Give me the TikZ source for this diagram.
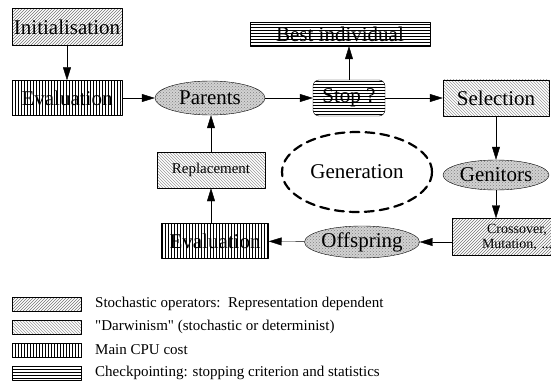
\documentclass[tikz,border=0pt]{standalone}
\usepackage{fontspec}
\setmainfont{Liberation Serif}
\usepackage{tikz}
\usetikzlibrary{arrows.meta}
\usetikzlibrary{patterns}
\usetikzlibrary{shapes.geometric}
\definecolor{hatchgray}{rgb}{0.45,0.45,0.45}
\definecolor{ltgray}{rgb}{0.6,0.6,0.6}
\tikzstyle{every node}=[font=\fontsize{21}{22}\selectfont,inner sep=0pt]
\tikzstyle{stoch}=[draw,pattern=north east lines,pattern color=hatchgray]
\tikzstyle{darwin}=[draw,pattern=north west lines,pattern color=ltgray]
\tikzstyle{cpu}=[draw,pattern=vertical lines]
\tikzstyle{chkpt}=[draw,pattern=horizontal lines]
\tikzstyle{pop}=[draw,ellipse,preaction={fill=gray!35},pattern=crosshatch dots,pattern color=gray]
\tikzstyle{legtext}=[anchor=west,font=\fontsize{15}{16}\selectfont]

\begin{document}
\begin{tikzpicture}[line cap=round,line join=round,>={Triangle[length=13pt,width=8pt]},x=1pt,y=-1pt]
            \useasboundingbox (0,0) rectangle (551,385);
            \clip (0,0) rectangle (551,385);
            % main loop
            \node [stoch,minimum width=110pt,minimum height=37pt] (init) at (67,27) {Initialisation};
            \node [cpu,minimum width=110pt,minimum height=35pt] (evalA) at (67,98) {Evaluation};
            \node [pop,minimum width=110pt,minimum height=34pt] (parents) at (210,98) {Parents};
            \node [chkpt,rounded corners=6pt,minimum width=72pt,minimum height=36pt] (stop) at (349,98) {Stop ?};
            \node [chkpt,minimum width=180pt,minimum height=24pt] (best) at (340,34) {Best individual};
            \node [darwin,minimum width=106pt,minimum height=36pt] (selection) at (496,98) {Selection};
            \node [pop,minimum width=106pt,minimum height=30pt] (genitors) at (496,175) {Genitors};
            \node [stoch,minimum width=130pt,minimum height=37pt,text width=90pt,align=center,font=\fontsize{14}{15}\selectfont] (cross) at (517,237) {Crossover,\\ Mutation, ...};
            \node [pop,minimum width=110pt,minimum height=32pt] (offspring) at (362,242) {Offspring};
            \node [cpu,minimum width=107pt,minimum height=35pt] (evalB) at (215,241) {Evaluation};
            \node [darwin,minimum width=108pt,minimum height=36pt,font=\fontsize{15}{16}\selectfont] (repl) at (211,170) {Replacement};
            \node [draw,ellipse,dashed,line width=2.2pt,dash pattern=on 9pt off 6pt,minimum width=150pt,minimum height=80pt] (gen) at (357,172) {Generation};
            \draw [->] (init) -- (evalA);
            \draw [->] (evalA) -- (parents);
            \draw [->] (parents) -- (stop);
            \draw [->] (stop.north) -- (stop.north |- best.south);
            \draw [->] (stop) -- (selection);
            \draw [->] (selection) -- (genitors);
            \draw [->] (genitors.south) -- (genitors.south |- cross.north);
            \draw [->] (cross.west |- offspring) -- (offspring);
            \draw [->] (offspring) -- (evalB);
            \draw [->] (repl.south |- evalB.north) -- (repl);
            \draw [->] (repl) -- (repl |- parents.south);
            % legend
            \node [stoch,minimum width=69pt,minimum height=14pt] (keyA) at (47,304) {};
            \node [darwin,minimum width=69pt,minimum height=14pt] (keyB) at (47,327) {};
            \node [cpu,minimum width=69pt,minimum height=14pt] (keyC) at (47,350) {};
            \node [chkpt,minimum width=69pt,minimum height=14pt] (keyD) at (47,373) {};
            \node [legtext] (txtA) at (95,304) {Stochastic operators:\ \ Representation dependent};
            \node [legtext] (txtB) at (95,327) {\textquotedbl Darwinism\textquotedbl\ (stochastic or determinist)};
            \node [legtext] (txtC) at (95,350) {Main CPU cost};
            \node [legtext] (txtD) at (95,373) {Checkpointing: stopping criterion and statistics};
\end{tikzpicture}
\end{document}
